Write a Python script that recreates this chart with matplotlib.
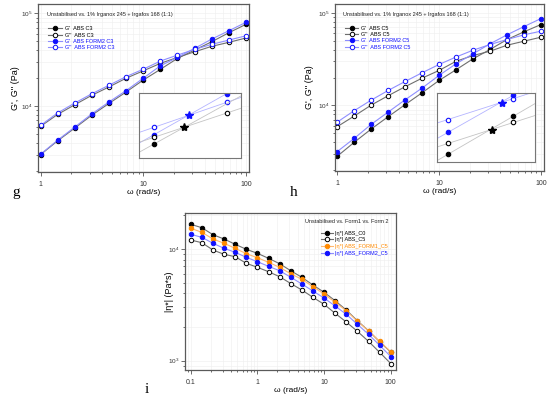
import numpy as np
import matplotlib
matplotlib.use('Agg')
import matplotlib.pyplot as plt
from matplotlib.ticker import FuncFormatter, NullFormatter

plt.rcParams['font.family'] = ['Liberation Sans', 'DejaVu Sans']
plt.rcParams['mathtext.fontset'] = 'custom'
plt.rcParams['mathtext.rm'] = 'Liberation Sans'

# angular frequency (rad/s)
freq = [1, 1.468, 2.154, 3.162, 4.642, 6.813, 10, 14.68, 21.54, 31.62, 46.42, 68.13, 100]
freq_i = [0.1, 0.1468, 0.2154, 0.3162, 0.4642, 0.6813, 1, 1.468, 2.154, 3.162,
          4.642, 6.813, 10, 14.68, 21.54, 31.62, 46.42, 68.13, 100]

# panel g: C3
g_gp_abs = [3000, 4230, 5800, 8000, 10700, 14200, 19100, 24900, 32700, 40200, 49400, 61800, 76100]
g_gpp_abs = [6050, 8150, 10350, 13100, 16100, 20000, 24000, 28900, 33500, 38500, 44100, 48700, 54200]
g_gp_form2 = [3030, 4300, 5950, 8250, 11100, 14700, 20000, 27200, 33500, 41900, 52800, 64900, 80000]
g_gpp_form2 = [6200, 8450, 10800, 13600, 16800, 20800, 25000, 30600, 35500, 40900, 46300, 51500, 57300]

# panel h: C5
h_gp_abs = [2820, 3990, 5550, 7550, 10200, 13700, 18600, 24300, 31900, 40200, 51500, 62400, 74800]
h_gpp_abs = [5890, 7670, 10070, 12730, 15920, 19710, 23870, 30000, 34600, 38500, 44700, 49400, 54600]
h_gp_form2 = [3170, 4400, 6240, 8470, 11500, 15400, 21100, 28200, 36100, 46300, 57900, 71100, 86800]
h_gpp_form2 = [6600, 8770, 11400, 14500, 18150, 22530, 27700, 33360, 39500, 45500, 51500, 57900, 63400]

# panel i: complex viscosity
i_c0 = [16640, 15510, 13430, 12290, 11020, 9940, 9150, 8255, 7386, 6393,
        5580, 4761, 4097, 3445, 2844, 2281, 1856, 1480, 1195]
i_c5 = [12040, 11390, 9795, 8966, 8535, 7447, 6859, 6264, 5649, 4911,
        4296, 3694, 3198, 2657, 2221, 1833, 1492, 1189, 944]
i_form1 = [15320, 14110, 12290, 11250, 10140, 9077, 8358, 7602, 6859, 6000,
           5355, 4598, 3955, 3333, 2803, 2253, 1856, 1492, 1204]
i_form2 = [13540, 12720, 11250, 10140, 9343, 8428, 7696, 7000, 6393, 5591,
           4861, 4207, 3641, 3088, 2602, 2118, 1723, 1374, 1090]

# insets (schematic zoom of the crossover, axes fraction units)
g_in_edges = {'bo': (0.392, 0.931), 'bf': (0.228, 1.113), 'ko': (0.241, 0.764), 'kf': (0.087, 0.954)}
g_in_pts = {'bo': ([0.148, 0.862], [0.472, 0.856]), 'bf': ([0.148, 0.862], [0.359, 0.990]),
            'ko': ([0.148, 0.862], [0.318, 0.692]), 'kf': ([0.148], [0.215])}
g_in_stars = {'b': (0.49, 0.656), 'k': (0.444, 0.472)}

h_in_edges = {'bo': (0.565, 1.019), 'bf': (0.340, 1.144), 'ko': (0.220, 0.675), 'kf': (0.022, 0.847)}
h_in_pts = {'bo': ([0.119, 0.780], [0.617, 0.919]), 'bf': ([0.119, 0.780], [0.435, 0.967]),
            'ko': ([0.119, 0.780], [0.273, 0.574]), 'kf': ([0.119, 0.780], [0.120, 0.665])}
h_in_stars = {'b': (0.661, 0.861), 'k': (0.559, 0.464)}

BLK, BLK_LN = 'black', '#6e6e6e'
BLU, BLU_LN = '#1010ff', '#8e8eff'
ORG, ORG_LN = '#ff8a00', '#ffb870'
SPINE = '#5a5a5a'

fig = plt.figure(figsize=(5.5, 3.97), dpi=100)


def style_axes(ax, xlim, ylim):
    ax.set_xscale('log')
    ax.set_yscale('log')
    ax.set_xlim(*xlim)
    ax.set_ylim(*ylim)
    ax.grid(True, which='both', color='#eeeeee', lw=0.4)
    ax.set_axisbelow(True)
    for s in ax.spines.values():
        s.set_color(SPINE)
        s.set_linewidth(0.9)
    ax.tick_params(which='both', direction='out', labelsize=5, width=0.5, colors='#333333',
                   top=False, right=False)
    ax.tick_params(which='major', length=3)
    ax.tick_params(which='minor', length=1.6)
    ax.tick_params(axis='y', which='both', pad=1.2, labelsize=4.6)
    ax.xaxis.set_major_formatter(FuncFormatter(lambda v, _: f'{v:g}'))
    ax.xaxis.set_minor_formatter(NullFormatter())
    ax.yaxis.set_minor_formatter(NullFormatter())


def series(ax, x, y, mk_color, ln_color, filled, label):
    ax.plot(x, y, '-o', color=ln_color, lw=0.8, ms=3.2, mec=mk_color,
            mfc=mk_color if filled else 'white', mew=0.7, label=label)


def inset(rect, edges, pts, stars):
    ia = fig.add_axes(rect)
    ia.set_xlim(0, 1)
    ia.set_ylim(0, 1)
    ia.set_xticks([])
    ia.set_yticks([])
    for s in ia.spines.values():
        s.set_color('#777777')
        s.set_linewidth(0.8)
    look = {'bo': (BLU, '#b4b4ff', False), 'bf': (BLU, '#b4b4ff', True),
            'ko': (BLK, '#c4c4c4', False), 'kf': (BLK, '#c4c4c4', True)}
    for key, (y0, y1) in edges.items():
        mc, lc, filled = look[key]
        ia.plot([0, 1], [y0, y1], color=lc, lw=0.6)
        px, py = pts[key]
        ia.plot(px, py, 'o', ls='none', ms=3.2, mec=mc, mfc=mc if filled else 'white',
                mew=0.8)
    ia.plot(*stars['b'], marker='*', color=BLU, ms=6, ls='none')
    ia.plot(*stars['k'], marker='*', color=BLK, ms=6, ls='none')


def moduli_panel(rect, gp_abs, gpp_abs, gp_f2, gpp_f2, name, ylab_x):
    ax = fig.add_axes(rect)
    series(ax, freq, gp_abs, BLK, BLK_LN, True, f"G'  ABS {name}")
    series(ax, freq, gpp_abs, BLK, BLK_LN, False, f"G''  ABS {name}")
    series(ax, freq, gp_f2, BLU, BLU_LN, True, f"G'  ABS FORM2 {name}")
    series(ax, freq, gpp_f2, BLU, BLU_LN, False, f"G''  ABS FORM2 {name}")
    style_axes(ax, (0.95, 107), (1950, 126000))
    ax.set_xlabel('ω (rad/s)', fontsize=6)
    ax.set_ylabel("G', G'' (Pa)", fontsize=6.5)
    ax.xaxis.set_label_coords(0.5, -0.1)
    ax.yaxis.set_label_coords(ylab_x, 0.5)
    ax.text(0.04, 0.935, 'Unstabilised vs. 1% Irganox 245 + Irgafos 168 (1:1)',
            transform=ax.transAxes, fontsize=4, va='center', color='#222222')
    leg = ax.legend(loc='upper left', bbox_to_anchor=(0.035, 0.885), frameon=False,
                    fontsize=4, handlelength=2.4, handletextpad=0.5, labelspacing=0.25,
                    borderpad=0, numpoints=1)
    for t, c in zip(leg.get_texts(), [BLK, BLK, BLU, BLU]):
        t.set_color(c)
    return ax


moduli_panel([0.0696, 0.5668, 0.383, 0.423], g_gp_abs, g_gpp_abs, g_gp_form2, g_gpp_form2, 'C3', -0.088)
inset([0.2527, 0.602, 0.1855, 0.164], g_in_edges, g_in_pts, g_in_stars)

moduli_panel([0.609, 0.569, 0.380, 0.422], h_gp_abs, h_gpp_abs, h_gp_form2, h_gpp_form2, 'C5', -0.1)
inset([0.794, 0.591, 0.179, 0.175], h_in_edges, h_in_pts, h_in_stars)

# panel i
ax = fig.add_axes([0.3364, 0.068, 0.3836, 0.396])
series(ax, freq_i, i_c0, BLK, BLK_LN, True, '|η*| ABS_C0')
series(ax, freq_i, i_c5, BLK, BLK_LN, False, '|η*| ABS_C5')
series(ax, freq_i, i_form1, ORG, ORG_LN, True, '|η*| ABS_FORM1_C5')
series(ax, freq_i, i_form2, BLU, BLU_LN, True, '|η*| ABS_FORM2_C5')
style_axes(ax, (0.082, 120), (826, 21100))
ax.set_xlabel('ω (rad/s)', fontsize=6)
ax.set_ylabel('|η*| (Pa*s)', fontsize=6.5)
ax.xaxis.set_label_coords(0.5, -0.105)
ax.yaxis.set_label_coords(-0.05, 0.5)
ax.text(0.962, 0.944, 'Unstabilised vs. Form1 vs. Form 2', transform=ax.transAxes,
        fontsize=4, ha='right', va='center', color='#222222')
leg = ax.legend(loc='upper left', bbox_to_anchor=(0.63, 0.905), frameon=False,
                fontsize=4, handlelength=2.2, handletextpad=0.4, labelspacing=0.3,
                borderpad=0, numpoints=1)
for t, c in zip(leg.get_texts(), [BLK, BLK, ORG, BLU]):
    t.set_color(c)

# panel letters
fig.text(12 / 550, 1 - 196 / 397, 'g', family='Liberation Serif', fontsize=11, va='baseline')
fig.text(290 / 550, 1 - 196 / 397, 'h', family='Liberation Serif', fontsize=11, va='baseline')
fig.text(145 / 550, 1 - 393 / 397, 'i', family='Liberation Serif', fontsize=11, va='baseline')

fig.savefig('out.png', dpi=100)
